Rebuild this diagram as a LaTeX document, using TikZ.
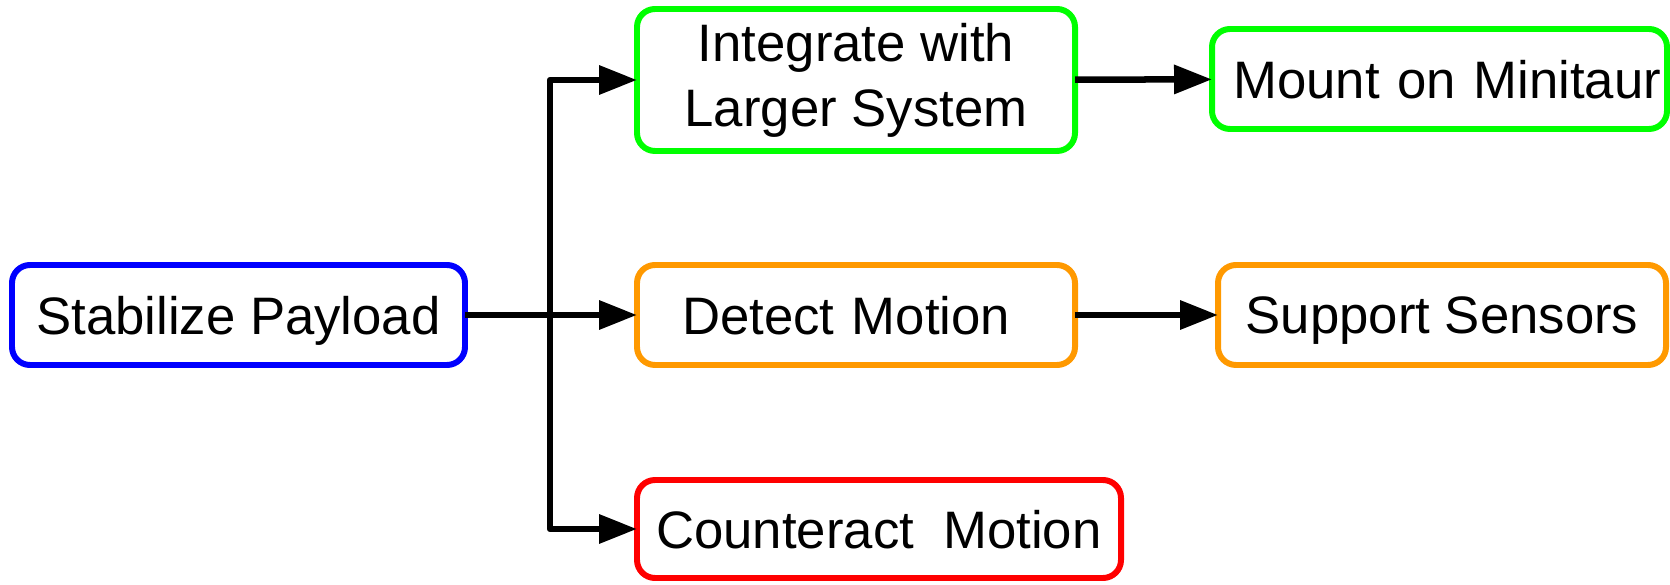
\documentclass[tikz,border=0pt]{standalone}
\usepackage{fontspec}
\setmainfont{Liberation Sans}
\usepackage{tikz}
\usetikzlibrary{arrows.meta}
\definecolor{boxblue}{RGB}{0,0,255}
\definecolor{boxgreen}{RGB}{0,255,0}
\definecolor{boxorange}{RGB}{255,153,0}
\definecolor{boxred}{RGB}{255,0,0}

\tikzset{
	goalbox/.style={draw=#1,line width=3.4pt,rounded corners=0.36cm,outer sep=0pt,
		minimum height=2cm,text depth=0pt,align=center,font=\fontsize{30}{37}\selectfont},
	arr/.style={-{Triangle[length=0.76cm,width=0.56cm]},line width=3.7pt,line join=round}
}

\begin{document}
\begin{tikzpicture}
	\useasboundingbox (0,0) rectangle (33.4,-11.7);
	\node[goalbox=boxblue,minimum width=9.06cm] (stab) at (4.77,-6.30) {Stabilize Payload};
	\node[goalbox=boxgreen,text depth=,minimum width=8.76cm,minimum height=2.84cm] (integ) at (17.12,-1.60) {Integrate with\\Larger System};
	\node[goalbox=boxgreen,text width=8.86cm,inner xsep=0.12cm,align=right] (mount) at (28.79,-1.58) {Mount on Minitaur};
	\node[goalbox=boxorange,text width=6.96cm,inner xsep=0.9cm,align=left] (detect) at (17.12,-6.30) {Detect Motion};
	\node[goalbox=boxorange,minimum width=8.96cm] (support) at (28.84,-6.30) {Support Sensors};
	\node[goalbox=boxred,minimum width=9.68cm,minimum height=1.96cm] (counter) at (17.58,-10.58) {Counteract\ \ Motion};
	\coordinate (split) at (11.0,-6.30);
	\draw[arr] (stab) -- (detect);
	\draw[arr] (split) |- (integ);
	\draw[arr] (split) |- (counter);
	\draw[arr] (integ) -- (mount);
	\draw[arr] (detect) -- (support);
\end{tikzpicture}
\end{document}
